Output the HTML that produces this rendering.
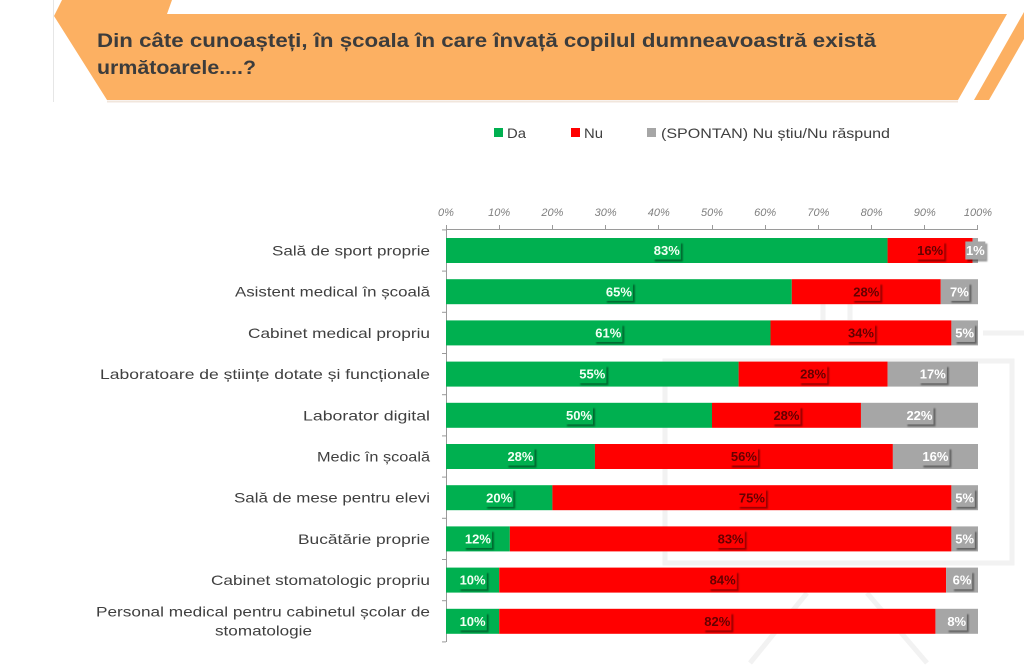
<!DOCTYPE html>
<html><head><meta charset="utf-8"><style>
html,body{margin:0;padding:0;background:#fff;width:1024px;height:665px;overflow:hidden}
svg{display:block}
.cat{font-family:"Liberation Sans","DejaVu Sans",sans-serif;font-size:14px;fill:#3f3f3f}
.tick{font-family:"Liberation Sans",sans-serif;font-size:11px;font-style:italic;fill:#7f7f7f}
.lbl{font-family:"Liberation Sans",sans-serif;font-size:13px;font-weight:bold}
.leg{font-family:"Liberation Sans","DejaVu Sans",sans-serif;font-size:14px;fill:#3f3f3f}
.title{font-family:"Liberation Sans","DejaVu Sans",sans-serif;font-size:19px;font-weight:bold;fill:#3c3c3c}
</style></head><body>
<svg width="1024" height="665" viewBox="0 0 1024 665" xmlns="http://www.w3.org/2000/svg">
<defs>
<filter id="ds" x="-30%" y="-30%" width="160%" height="160%">
<feDropShadow dx="2" dy="2" stdDeviation="0.8" flood-color="#000" flood-opacity="0.4"/>
</filter>
</defs>
<!-- watermark -->
<g stroke="#f2f2f2" stroke-width="5" fill="none">
<line x1="983" y1="333" x2="1024" y2="333"/>
<rect x="665" y="361" width="347" height="202"/>
<line x1="823" y1="300" x2="823" y2="320"/>
<line x1="850" y1="300" x2="850" y2="320"/>
<line x1="750" y1="663" x2="807" y2="593"/>
<line x1="927" y1="663" x2="867" y2="593"/>
<line x1="636" y1="330" x2="636" y2="345"/>
</g>
<!-- slide left border -->
<line x1="53.5" y1="0" x2="53.5" y2="102" stroke="#e6e6e6" stroke-width="1"/>
<!-- banner -->
<polygon points="62,0 172,0 167,14 1007,14 958,100 107,100 54,16" fill="#fcb062"/>
<polygon points="974,100 989,100 1024,39 1024,12" fill="#fcb062"/>
<line x1="107" y1="101.5" x2="958" y2="101.5" stroke="#f1e6dc" stroke-width="2"/>
<text class="title" x="97" y="47" textLength="779" lengthAdjust="spacingAndGlyphs">Din câte cunoașteți,  în școala în care învață copilul dumneavoastră există</text>
<text class="title" x="97" y="74" textLength="159" lengthAdjust="spacingAndGlyphs">următoarele....?</text>
<!-- legend -->
<rect x="494" y="128" width="9" height="9" fill="#00b050"/>
<text class="leg" x="507" y="138" textLength="19" lengthAdjust="spacingAndGlyphs">Da</text>
<rect x="571" y="128" width="9" height="9" fill="#ff0000"/>
<text class="leg" x="584" y="138" textLength="19" lengthAdjust="spacingAndGlyphs">Nu</text>
<rect x="647" y="128" width="9" height="9" fill="#a6a6a6"/>
<text class="leg" x="661" y="138" textLength="229" lengthAdjust="spacingAndGlyphs">(SPONTAN) Nu știu/Nu  răspund</text>
<!-- axis ticks labels -->
<g class="tick" text-anchor="middle">
<text x="446" y="216">0%</text><text x="499.2" y="216">10%</text><text x="552.4" y="216">20%</text>
<text x="605.6" y="216">30%</text><text x="658.8" y="216">40%</text><text x="712" y="216">50%</text>
<text x="765.2" y="216">60%</text><text x="818.4" y="216">70%</text><text x="871.6" y="216">80%</text>
<text x="924.8" y="216">90%</text><text x="978" y="216">100%</text>
</g>
<g stroke="#9a9a9a" stroke-width="1">
<line x1="446" y1="229.5" x2="978" y2="229.5"/>
<line x1="446.5" y1="229.5" x2="446.5" y2="642"/>
<line x1="446.5" y1="225" x2="446.5" y2="230"/><line x1="499.5" y1="225" x2="499.5" y2="230"/>
<line x1="552.5" y1="225" x2="552.5" y2="230"/><line x1="605.5" y1="225" x2="605.5" y2="230"/>
<line x1="658.5" y1="225" x2="658.5" y2="230"/><line x1="712.5" y1="225" x2="712.5" y2="230"/>
<line x1="765.5" y1="225" x2="765.5" y2="230"/><line x1="818.5" y1="225" x2="818.5" y2="230"/>
<line x1="871.5" y1="225" x2="871.5" y2="230"/><line x1="924.5" y1="225" x2="924.5" y2="230"/>
<line x1="977.5" y1="225" x2="977.5" y2="230"/>
<line x1="442" y1="229.9" x2="446" y2="229.9"/><line x1="442" y1="271.1" x2="446" y2="271.1"/>
<line x1="442" y1="312.3" x2="446" y2="312.3"/><line x1="442" y1="353.5" x2="446" y2="353.5"/>
<line x1="442" y1="394.7" x2="446" y2="394.7"/><line x1="442" y1="435.9" x2="446" y2="435.9"/>
<line x1="442" y1="477.1" x2="446" y2="477.1"/><line x1="442" y1="518.3" x2="446" y2="518.3"/>
<line x1="442" y1="559.5" x2="446" y2="559.5"/><line x1="442" y1="600.7" x2="446" y2="600.7"/>
<line x1="442" y1="641.9" x2="446" y2="641.9"/>
</g>
<!-- category labels -->
<g class="cat">
<text x="272" y="255.5" textLength="158" lengthAdjust="spacingAndGlyphs">Sală de sport proprie</text>
<text x="235" y="296.7" textLength="195" lengthAdjust="spacingAndGlyphs">Asistent medical în școală</text>
<text x="248" y="337.9" textLength="182" lengthAdjust="spacingAndGlyphs">Cabinet medical propriu</text>
<text x="100" y="379.1" textLength="330" lengthAdjust="spacingAndGlyphs">Laboratoare de științe dotate și funcționale</text>
<text x="303" y="420.3" textLength="127" lengthAdjust="spacingAndGlyphs">Laborator digital</text>
<text x="317" y="461.5" textLength="113" lengthAdjust="spacingAndGlyphs">Medic în școală</text>
<text x="234" y="502.7" textLength="196" lengthAdjust="spacingAndGlyphs">Sală de mese pentru elevi</text>
<text x="298" y="543.9" textLength="132" lengthAdjust="spacingAndGlyphs">Bucătărie proprie</text>
<text x="211" y="585.1" textLength="219" lengthAdjust="spacingAndGlyphs">Cabinet stomatologic propriu</text>
<text x="96" y="616.5" textLength="334" lengthAdjust="spacingAndGlyphs">Personal medical pentru cabinetul școlar de</text>
<text x="215" y="635.5" textLength="97" lengthAdjust="spacingAndGlyphs">stomatologie</text>
</g>
<g id="bars"></g>
</svg>
<script>
(function(){
var NS="http://www.w3.org/2000/svg";
var svg=document.querySelector("svg");
function t(parent,x,y,txt,anchor,cls,fill){var e=document.createElementNS(NS,"text");e.setAttribute("x",x);e.setAttribute("y",y);if(anchor)e.setAttribute("text-anchor",anchor);if(cls)e.setAttribute("class",cls);if(fill)e.setAttribute("fill",fill);e.textContent=txt;parent.appendChild(e);return e;}
var data=[[83,16,1],[65,28,7],[61,34,5],[55,28,17],[50,28,22],[28,56,16],[20,75,5],[12,83,5],[10,84,6],[10,82,8]];
var cols=["#00b050","#ff0000","#a6a6a6"],tcol=["#f2fff4","#650000","#ffffff"];
var x0=446,sc=5.32,gb=svg.querySelector("#bars");
data.forEach(function(r,k){var cy=250.5+41.2*k,top=cy-12.5;var x=x0;var segs=[];
r.forEach(function(v,j){var w=v*sc;var re=document.createElementNS(NS,"rect");re.setAttribute("x",x);re.setAttribute("y",top);re.setAttribute("width",w);re.setAttribute("height",25);re.setAttribute("fill",cols[j]);gb.appendChild(re);segs.push([x+w/2,v,j]);x+=w;});
segs.forEach(function(s){var txt=s[1]+"%";var bw=(s[1]>=10?28:20);var b=document.createElementNS(NS,"rect");b.setAttribute("x",s[0]-bw/2);b.setAttribute("y",cy-9);b.setAttribute("width",bw);b.setAttribute("height",18);b.setAttribute("fill",cols[s[2]]);b.setAttribute("filter","url(#ds)");gb.appendChild(b);
t(gb,s[0],cy+4.6,txt,"middle","lbl",tcol[s[2]]);});
});
})();
</script>
</body></html>
